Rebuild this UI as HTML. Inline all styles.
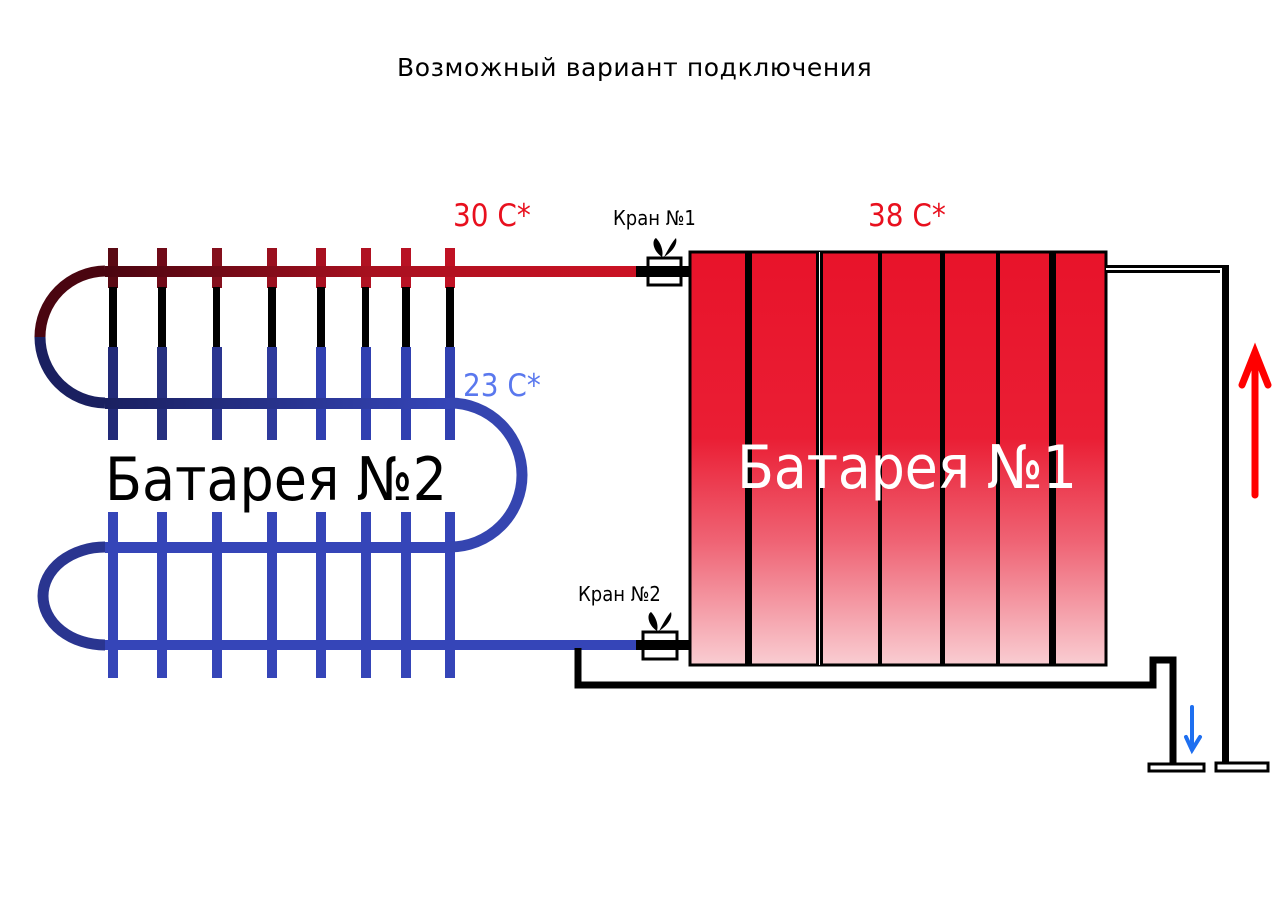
<!DOCTYPE html>
<html><head><meta charset="utf-8"><style>
html,body{margin:0;padding:0;background:#fff;}
svg{display:block;}
text{font-family:"DejaVu Sans Condensed","DejaVu Sans","Liberation Sans",sans-serif;}
text.t{font-family:"DejaVu Sans","Liberation Sans",sans-serif;letter-spacing:0.6px;}
</style></head><body>
<svg width="1280" height="900" viewBox="0 0 1280 900" xmlns="http://www.w3.org/2000/svg">
<defs>
<linearGradient id="rad" x1="0" y1="0" x2="0" y2="1">
<stop offset="0" stop-color="#e8132a"/>
<stop offset="0.45" stop-color="#ea1e34"/>
<stop offset="0.7" stop-color="#ef6374"/>
<stop offset="1" stop-color="#f9cdd2"/>
</linearGradient>
<linearGradient id="redp" x1="0" y1="0" x2="1" y2="0">
<stop offset="0" stop-color="#4a0510"/>
<stop offset="0.5" stop-color="#a8101f"/>
<stop offset="1" stop-color="#cc1224"/>
</linearGradient>
<linearGradient id="bluep" x1="0" y1="0" x2="1" y2="0">
<stop offset="0" stop-color="#1a2060"/>
<stop offset="1" stop-color="#3545b8"/>
</linearGradient>
</defs>

<text class="t" x="397" y="76" font-size="25" fill="#000">Возможный вариант подключения</text>

<g>
<rect x="108" y="248" width="10" height="40" fill="#5a0a14"/>
<rect x="157" y="248" width="10" height="40" fill="#700a18"/>
<rect x="212" y="248" width="10" height="40" fill="#85101d"/>
<rect x="267" y="248" width="10" height="40" fill="#9a101f"/>
<rect x="316" y="248" width="10" height="40" fill="#a81020"/>
<rect x="361" y="248" width="10" height="40" fill="#b01222"/>
<rect x="401" y="248" width="10" height="40" fill="#b81224"/>
<rect x="445" y="248" width="10" height="40" fill="#c01224"/>
</g>
<g fill="#000">
<rect x="109" y="287" width="8" height="60"/><rect x="158" y="287" width="8" height="60"/>
<rect x="213" y="287" width="7" height="60"/><rect x="268" y="287" width="8" height="60"/>
<rect x="317" y="287" width="8" height="60"/><rect x="362" y="287" width="7" height="60"/>
<rect x="402" y="287" width="8" height="60"/><rect x="446" y="287" width="8" height="60"/>
</g>
<g fill="#3040b0">
<rect x="108" y="347" width="10" height="93" fill="#222a78"/><rect x="157" y="347" width="10" height="93" fill="#26307f"/>
<rect x="212" y="347" width="10" height="93" fill="#2a3590"/><rect x="267" y="347" width="10" height="93" fill="#2e3a9c"/>
<rect x="316" y="347" width="10" height="93"/><rect x="361" y="347" width="10" height="93"/>
<rect x="401" y="347" width="10" height="93"/><rect x="445" y="347" width="10" height="93"/>
</g>
<g fill="#3545b8">
<rect x="108" y="512" width="10" height="166"/><rect x="157" y="512" width="10" height="166"/>
<rect x="212" y="512" width="10" height="166"/><rect x="267" y="512" width="10" height="166"/>
<rect x="316" y="512" width="10" height="166"/><rect x="361" y="512" width="10" height="166"/>
<rect x="401" y="512" width="10" height="166"/><rect x="445" y="512" width="10" height="166"/>
</g>

<rect x="105" y="266" width="535" height="11" fill="url(#redp)"/>
<path d="M105 271 A66 66 0 0 0 40 337" stroke="#4a0510" stroke-width="11" fill="none"/>
<path d="M40 337 A66 66 0 0 0 105 403" stroke="#1a2060" stroke-width="11" fill="none"/>
<rect x="105" y="398" width="345" height="11" fill="url(#bluep)"/>
<path d="M450 403 A72 72 0 0 1 450 547" stroke="#3545b0" stroke-width="11" fill="none"/>
<rect x="105" y="542" width="345" height="11" fill="#3545b8"/>
<path d="M105 547 A62 49 0 0 0 105 645" stroke="#2a3590" stroke-width="11" fill="none"/>
<rect x="105" y="640" width="535" height="10" fill="#3545b8"/>

<rect x="636" y="266" width="56" height="11" fill="#000"/>
<rect x="648" y="258" width="33" height="27" fill="#fff" stroke="#000" stroke-width="3"/>
<rect x="648" y="266" width="33" height="11" fill="#000"/>
<path d="M662 257 C652 250 652 240 656 238 C660 242 664 250 662 257 Z M664 257 C668 250 672 242 676 238 C678 244 672 252 664 257 Z" fill="#000"/>
<rect x="636" y="640" width="56" height="10" fill="#000"/>
<rect x="643" y="632" width="34" height="27" fill="#fff" stroke="#000" stroke-width="3"/>
<rect x="643" y="640" width="34" height="10" fill="#000"/>
<path d="M657 631 C647 624 647 614 651 612 C655 616 659 624 657 631 Z M659 631 C663 624 667 616 671 612 C673 618 667 626 659 631 Z" fill="#000"/>

<rect x="690" y="252" width="416" height="413" fill="url(#rad)" stroke="#000" stroke-width="3"/>
<g fill="#000">
<rect x="745" y="252" width="7" height="413"/>
<rect x="816" y="252" width="7" height="413"/><rect x="819" y="252" width="1" height="413" fill="#fff"/>
<rect x="878" y="252" width="4" height="413"/>
<rect x="940" y="252" width="5" height="413"/>
<rect x="996" y="252" width="4" height="413"/>
<rect x="1049" y="252" width="7" height="413"/>
</g>

<path d="M1106 269 H1225 V766" stroke="#000" stroke-width="8" fill="none"/>
<path d="M1106 269 H1221 V766" stroke="#fff" stroke-width="2" fill="none"/>
<rect x="1216" y="763" width="52" height="8" fill="#fff" stroke="#000" stroke-width="3"/>
<path d="M578 648 V685 H1153 V660 H1173 V766" stroke="#000" stroke-width="7" fill="none"/>
<rect x="1149" y="764" width="55" height="7" fill="#fff" stroke="#000" stroke-width="3"/>

<path d="M1255 495 V356 M1242 385 L1255 352 L1268 385" stroke="#ff0000" stroke-width="7" fill="none" stroke-linecap="round"/>
<path d="M1192 707 V750 M1186 737 L1192 750 L1200 737" stroke="#1e6ff0" stroke-width="4" fill="none" stroke-linecap="round"/>

<text x="453" y="226" font-size="31" fill="#e8101e">30 C*</text>
<text x="868" y="226" font-size="31" fill="#e8101e">38 C*</text>
<text x="463" y="396" font-size="31" fill="#5a78ee">23 C*</text>
<text x="613" y="225" font-size="20" fill="#000">Кран №1</text>
<text x="578" y="601" font-size="20" fill="#000">Кран №2</text>
<text x="105" y="500" font-size="60" fill="#000" textLength="342">Батарея №2</text>
<text x="737" y="488" font-size="60" fill="#fff" textLength="340">Батарея №1</text>
</svg>
</body></html>
